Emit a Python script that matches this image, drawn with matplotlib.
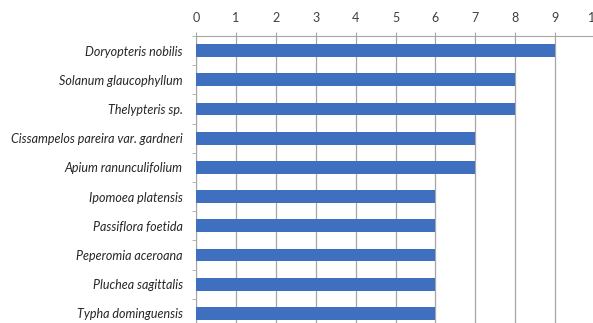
import matplotlib
matplotlib.use("Agg")
import matplotlib.pyplot as plt
import numpy as np

species = [
    "Doryopteris nobilis",
    "Solanum glaucophyllum",
    "Thelypteris sp.",
    "Cissampelos pareira var. gardneri",
    "Apium ranunculifolium",
    "Ipomoea platensis",
    "Passiflora foetida",
    "Peperomia aceroana",
    "Pluchea sagittalis",
    "Typha dominguensis",
]
counts = [9, 8, 8, 7, 7, 6, 6, 6, 6, 6]
xticks = list(range(0, 11))

fig = plt.figure(figsize=(5.93, 3.23), dpi=100)
ax = fig.add_axes([196/593, (323-328)/323, 399/593, 292/323])

y = np.arange(len(species))
ax.barh(y, counts, height=0.44, color="#3F6FBF", zorder=3)
ax.set_ylim(len(species)-0.5, -0.5)
ax.set_xlim(0, 10)
ax.set_xticks(xticks)
ax.xaxis.tick_top()
ax.xaxis.grid(True, color="#A6A6A6", linewidth=0.9, zorder=0)
ax.tick_params(axis="x", which="major", length=3, color="#A6A6A6", pad=6,
               labelsize=9, labelcolor="#404040")
for lab in ax.get_xticklabels():
    lab.set_fontfamily("Lato")

ax.set_yticks(y)
ax.set_yticklabels(species, fontfamily="Lato", fontstyle="italic", fontsize=9,
                   color="#262626")
ax.set_yticks(np.arange(-0.5, len(species), 1), minor=True)
ax.tick_params(axis="y", which="major", length=0, pad=9.5)
ax.tick_params(axis="y", which="minor", length=3, color="#A6A6A6")

for side in ["right", "bottom"]:
    ax.spines[side].set_visible(False)
ax.spines["top"].set_color("#A6A6A6")
ax.spines["left"].set_color("#A6A6A6")

fig.savefig("out.png", dpi=100)
